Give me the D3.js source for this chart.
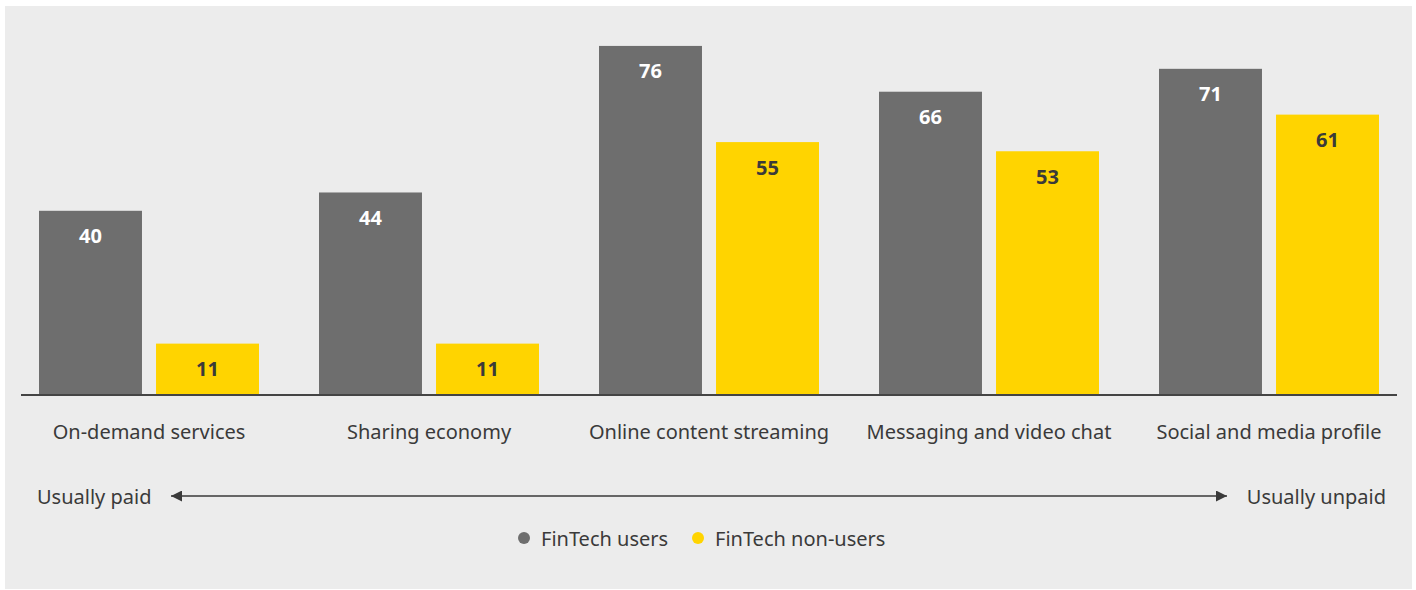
<!DOCTYPE html>
<html><head><meta charset="utf-8">
<script src="https://cdn.jsdelivr.net/npm/d3@7"></script>
<style>
html,body{margin:0;padding:0;background:#fff;}
svg{display:block;}
text{font-family:"Noto Sans",sans-serif;}
</style></head>
<body>
<svg id="chart" width="1416" height="590"></svg>
<script>
const categories = ["On-demand services","Sharing economy","Online content streaming","Messaging and video chat","Social and media profile"];
const seriesNames = ["FinTech users","FinTech non-users"];
const usersValues = [40,44,76,66,71];
const nonUsersValues = [11,11,55,53,61];
const scaleLabels = ["Usually paid","Usually unpaid"];
const colors = ["#6e6e6e","#ffd400"];

const svg = d3.select("#chart");
svg.append("rect").attr("x",5).attr("y",6).attr("width",1407).attr("height",583).attr("fill","#ececec");

const baseY = 394;
const x0 = d3.scaleBand().domain(categories).range([9,1409]).paddingInner(0).paddingOuter(0);
const x1 = d3.scaleBand().domain(seriesNames).range([30,250]).paddingInner(0.12).paddingOuter(0);
const y = d3.scaleLinear().domain([0,100]).range([baseY, baseY-458]);

const data = categories.map((c,i)=>({cat:c, vals:[usersValues[i], nonUsersValues[i]]}));

const g = svg.append("g");
const groups = g.selectAll("g.grp").data(data).join("g").attr("transform",d=>`translate(${x0(d.cat)},0)`);
groups.selectAll("rect").data(d=>d.vals.map((v,j)=>({v,s:seriesNames[j],j}))).join("rect")
  .attr("x",d=>x1(d.s)).attr("width",x1.bandwidth())
  .attr("y",d=>y(d.v)).attr("height",d=>baseY - y(d.v))
  .attr("fill",d=>colors[d.j]);
groups.selectAll("text.val").data(d=>d.vals.map((v,j)=>({v,s:seriesNames[j],j}))).join("text")
  .attr("class","val")
  .attr("x",d=>x1(d.s)+x1.bandwidth()/2).attr("y",d=>y(d.v)+25)
  .attr("text-anchor","middle").attr("dominant-baseline","central")
  .attr("font-size",20).attr("font-weight",700)
  .attr("fill",d=>d.j===0?"#ffffff":"#3a3a3a")
  .text(d=>d.v);

// baseline axis
const axis = d3.axisBottom(x0).tickSize(0).tickPadding(0).tickFormat(()=> "");
const ax = svg.append("g").attr("transform",`translate(0,${baseY+1})`).call(axis);
ax.select(".domain").attr("d","M21,0H1397").attr("stroke","#444").attr("stroke-width",2);

// category labels
svg.selectAll("text.cat").data(categories).join("text").attr("class","cat")
  .attr("x",d=>x0(d)+140).attr("y",431)
  .attr("text-anchor","middle").attr("dominant-baseline","central")
  .attr("font-size",20).attr("fill","#3a3a3a").text(d=>d);

// arrow
const defs = svg.append("defs");
defs.append("marker").attr("id","ah").attr("viewBox","0 0 10 10").attr("refX",10).attr("refY",5)
  .attr("markerWidth",17).attr("markerHeight",11).attr("markerUnits","userSpaceOnUse").attr("orient","auto-start-reverse")
  .append("path").attr("d","M0,0L10,5L0,10Z").attr("fill","#3a3a3a");
svg.append("line").attr("x1",171).attr("x2",1227).attr("y1",496).attr("y2",496)
  .attr("stroke","#3a3a3a").attr("stroke-width",1.3)
  .attr("marker-start","url(#ah)").attr("marker-end","url(#ah)");
svg.append("text").attr("x",37).attr("y",496).attr("dominant-baseline","central")
  .attr("font-size",20).attr("fill","#3a3a3a").text(scaleLabels[0]);
svg.append("text").attr("x",1386).attr("y",496).attr("dominant-baseline","central").attr("text-anchor","end")
  .attr("font-size",20).attr("fill","#3a3a3a").text(scaleLabels[1]);

// legend
const legX = [524, 698];
const leg = svg.selectAll("g.leg").data(seriesNames).join("g").attr("class","leg")
  .attr("transform",(d,i)=>`translate(${legX[i]},538)`);
leg.append("circle").attr("r",6).attr("fill",(d,i)=>colors[i]);
leg.append("text").attr("x",17).attr("dominant-baseline","central")
  .attr("font-size",20).attr("fill","#3a3a3a").text(d=>d);
</script>
</body></html>
